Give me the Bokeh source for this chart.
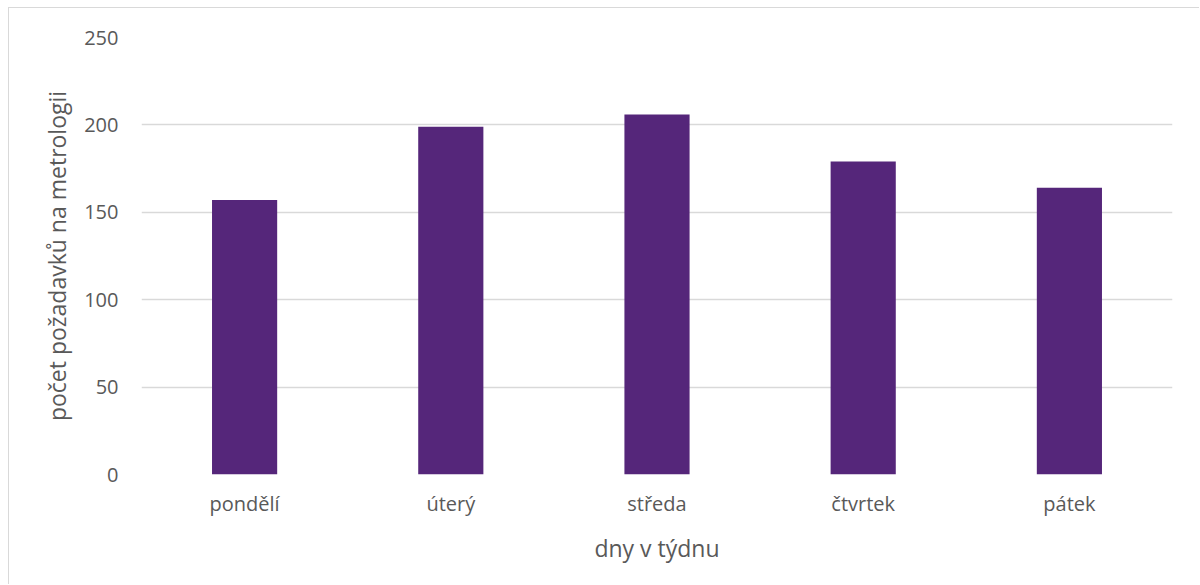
from bokeh.plotting import figure
from bokeh.models import ColumnDataSource, FactorRange, FixedTicker, Range1d
from bokeh.embed import file_html
from bokeh.resources import INLINE

# Requests for metrology per weekday
days = ["pondělí", "úterý", "středa", "čtvrtek", "pátek"]
requests = [157, 199, 206, 179, 164]
y_ticks = [0, 50, 100, 150, 200, 250]

FONT = "Open Sans"
TEXT = "#595959"
GRID = "#d9d9d9"

source = ColumnDataSource(data=dict(day=days, count=requests))

p = figure(
    x_range=FactorRange(factors=days, range_padding=0),
    y_range=Range1d(0, 250),
    width=1191, height=577,
    output_backend="svg", toolbar_location=None,
    min_border_left=132, min_border_right=28,
    min_border_top=29, min_border_bottom=111,
)
p.styles = {
    "margin-left": "8px", "margin-top": "7px",
    "border-left": f"1px solid {GRID}", "border-top": f"1px solid {GRID}",
}

p.vbar(x="day", top="count", width=0.316, source=source,
       fill_color="#55267A", line_color=None)

p.outline_line_color = None
p.background_fill_color = "white"
p.border_fill_color = "white"

p.xgrid.grid_line_color = None
p.ygrid.grid_line_color = GRID
p.ygrid.grid_line_width = 1.3
p.ygrid.level = "underlay"
p.yaxis.ticker = FixedTicker(ticks=y_ticks)

for ax in (p.xaxis[0], p.yaxis[0]):
    ax.axis_line_color = None
    ax.major_tick_line_color = None
    ax.minor_tick_line_color = None
    ax.major_label_text_font = FONT
    ax.major_label_text_font_size = "20px"
    ax.major_label_text_color = TEXT
    ax.axis_label_text_font = FONT
    ax.axis_label_text_font_size = "23px"
    ax.axis_label_text_color = TEXT
    ax.axis_label_text_font_style = "normal"

p.xaxis.axis_label = "dny v týdnu"
p.yaxis.axis_label = "počet požadavků na metrologii"
p.xaxis.major_label_standoff = 9
p.xaxis.axis_label_standoff = 12
p.yaxis.major_label_standoff = 17
p.yaxis.axis_label_standoff = 8

open("out.html", "w").write(file_html(p, INLINE))
